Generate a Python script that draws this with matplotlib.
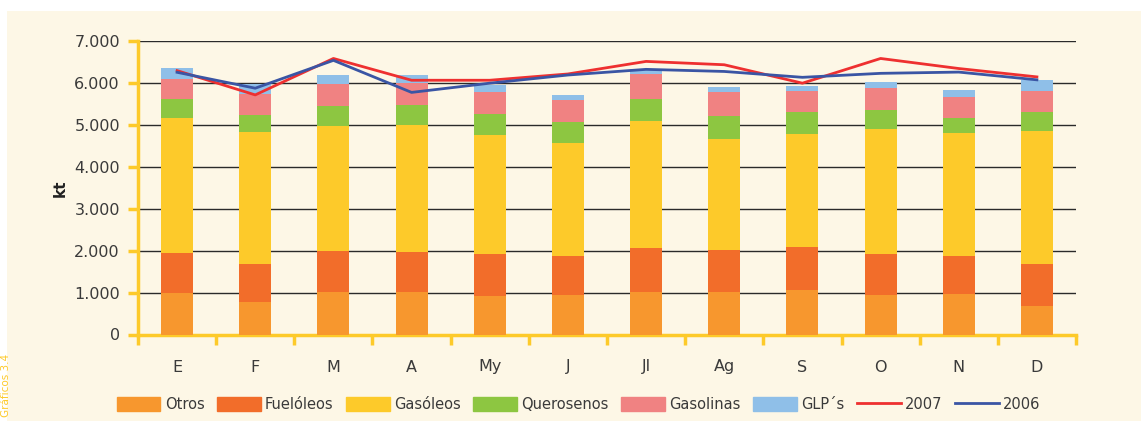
"""
Consumo mensual de productos petroliferos (kt), barras apiladas + totales 2007/2006
"""
import matplotlib.pyplot as plt
import numpy as np
from matplotlib.patches import Rectangle
from matplotlib.lines import Line2D

months = ["E", "F", "M", "A", "My", "J", "Jl", "Ag", "S", "O", "N", "D"]

otros = [1000, 780, 1015, 1015, 920, 945, 1015, 1015, 1060, 945, 965, 680]
fuel = [950, 905, 980, 955, 1000, 930, 1050, 1000, 1025, 975, 910, 1005]
gasoleos = [3220, 3150, 2985, 3030, 2840, 2695, 3030, 2650, 2700, 2985, 2935, 3175]
querosenos = [455, 400, 475, 475, 500, 500, 525, 550, 525, 455, 360, 455]
gasolinas = [475, 510, 535, 525, 525, 525, 595, 575, 500, 525, 500, 500]
glp = [265, 230, 205, 190, 165, 120, 120, 120, 120, 145, 165, 265]

total_2007 = [6300, 5720, 6590, 6070, 6070, 6220, 6520, 6440, 6000, 6590, 6350, 6150]
total_2006 = [6260, 5880, 6545, 5780, 6000, 6195, 6330, 6280, 6140, 6235, 6265, 6080]

series = [
    ("Otros", otros, "#F7972E"),
    ("Fuelóleos", fuel, "#F26D2A"),
    ("Gasóleos", gasoleos, "#FDCA2A"),
    ("Querosenos", querosenos, "#8DC641"),
    ("Gasolinas", gasolinas, "#F08282"),
    ("GLP´s", glp, "#8FBFE8"),
]

FONT = "DejaVu Sans"
TXT = "#3a3a3a"
BG = "#FDF7E6"
YEL = "#FDCA2A"

fig = plt.figure(figsize=(11.41, 4.21), dpi=100)
fig.patch.set_facecolor("white")
# cream panel
fig.add_artist(Rectangle((7 / 1141, 0), 1 - 7 / 1141, 1 - 11 / 421,
                         transform=fig.transFigure, facecolor=BG,
                         edgecolor="none", zorder=-10))
fig.text(0.001, 0.01, "Gráficos 3.4", rotation=90, color=YEL,
         fontsize=7.5, family=FONT, ha="left", va="bottom")

ax = fig.add_axes([138 / 1141, (421 - 334.5) / 421,
                   (1076 - 138) / 1141, (334.5 - 41.3) / 421])
ax.set_facecolor(BG)

x = np.arange(len(months))
bottom = np.zeros(len(months))
for name, vals, col in series:
    ax.bar(x, vals, width=0.41, bottom=bottom, color=col, zorder=3)
    bottom += np.array(vals)

ax.plot(x, total_2007, color="#EE3030", lw=2.0, zorder=4)
ax.plot(x, total_2006, color="#3A55A4", lw=2.0, zorder=5)

ax.set_xlim(-0.5, len(months) - 0.5)
ax.set_ylim(0, 7000)
ax.set_yticks(np.arange(0, 7001, 1000))
ax.set_yticklabels(["0", "1.000", "2.000", "3.000", "4.000", "5.000",
                    "6.000", "7.000"])
ax.set_xticks(x)
ax.set_xticklabels(months)
ax.set_xticks(np.arange(-0.5, len(months)), minor=True)

ax.grid(axis="y", color="#2a2a2a", lw=1.0, zorder=1)
ax.set_axisbelow(True)

for s in ["top", "right"]:
    ax.spines[s].set_visible(False)
for s in ["left", "bottom"]:
    ax.spines[s].set_color(YEL)
    ax.spines[s].set_linewidth(2.5)

ax.tick_params(axis="y", colors=YEL, width=2.5, length=7, labelcolor=TXT,
               labelsize=11.5, pad=6)
ax.tick_params(axis="x", which="major", length=0, labelcolor=TXT,
               labelsize=11.5, pad=18)
ax.tick_params(axis="x", which="minor", colors=YEL, width=2.5, length=7)
for lab in ax.get_xticklabels() + ax.get_yticklabels():
    lab.set_family(FONT)

ax.set_ylabel("kt", fontsize=11, fontweight="bold", color="#222222",
              family=FONT, labelpad=5)

handles = [Rectangle((0, 0), 1, 1, color=c) for _, _, c in series]
handles += [Line2D([], [], color="#EE3030", lw=2.0),
            Line2D([], [], color="#3A55A4", lw=2.0)]
labels = [n for n, _, _ in series] + ["2007", "2006"]
leg = fig.legend(handles, labels, loc="center", ncol=8,
                 bbox_to_anchor=(0.507, 0.04), frameon=False,
                 handlelength=3.0, handleheight=1.1, handletextpad=0.3,
                 columnspacing=0.85, prop={"family": FONT, "size": 10.5})
for t in leg.get_texts():
    t.set_color(TXT)

fig.savefig("out.png", dpi=100, facecolor=fig.get_facecolor())
